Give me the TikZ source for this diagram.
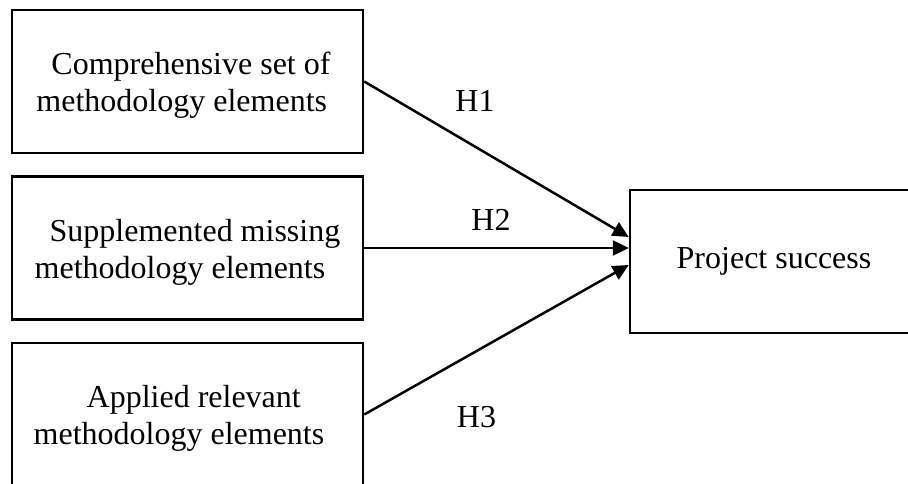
\documentclass[tikz,border=0pt]{standalone}
\usepackage{fontspec}
\setmainfont{Liberation Serif}
\usetikzlibrary{arrows.meta}
\tikzset{
  txt/.style={align=left, inner sep=0pt, yshift=-4pt,
    font=\fontsize{32}{37}\selectfont},
  leftbox/.style={draw, line width=2.5pt, inner sep=0pt, minimum width=351pt, minimum height=143pt},
  rightbox/.style={draw, line width=2.5pt, inner sep=0pt, minimum width=288pt, minimum height=143pt,
    font=\fontsize{32}{37}\selectfont},
  hyp/.style={font=\fontsize{32}{37}\selectfont, anchor=base, inner sep=0pt},
  link/.style={line width=2.5pt, -{Triangle[length=16pt,width=15pt]}}
}
\begin{document}
\begin{tikzpicture}[x=1pt,y=-1pt]
\useasboundingbox (0,0) rectangle (908,484);
\clip (0,0) rectangle (908,484);
\node[leftbox, label={[txt]center:{\hspace*{15pt}Comprehensive set of\hspace*{8pt}\\methodology elements}}] (b1) at (187.5,81.5) {};
\node[leftbox, label={[txt]center:{\hspace*{15pt}Supplemented missing\\methodology elements}}] (b2) at (187.5,248) {};
\node[leftbox, label={[txt]center:{\hspace*{53pt}Applied relevant\\methodology elements\hspace*{17pt}}}] (b3) at (187.5,414.5) {};
\node[rightbox] (p) at (774,261.5) {Project success};
\draw[link] (b1.east) -- ([yshift=24.5pt]p.west);
\draw[link] (b2.east) -- (b2.east -| p.west);
\draw[link] (b3.east) -- ([yshift=-3.5pt]p.west);
\node[hyp] (h1) at (475,112) {H1};
\node[hyp] (h2) at (491,230) {H2};
\node[hyp] (h3) at (476.5,427) {H3};
\end{tikzpicture}
\end{document}
